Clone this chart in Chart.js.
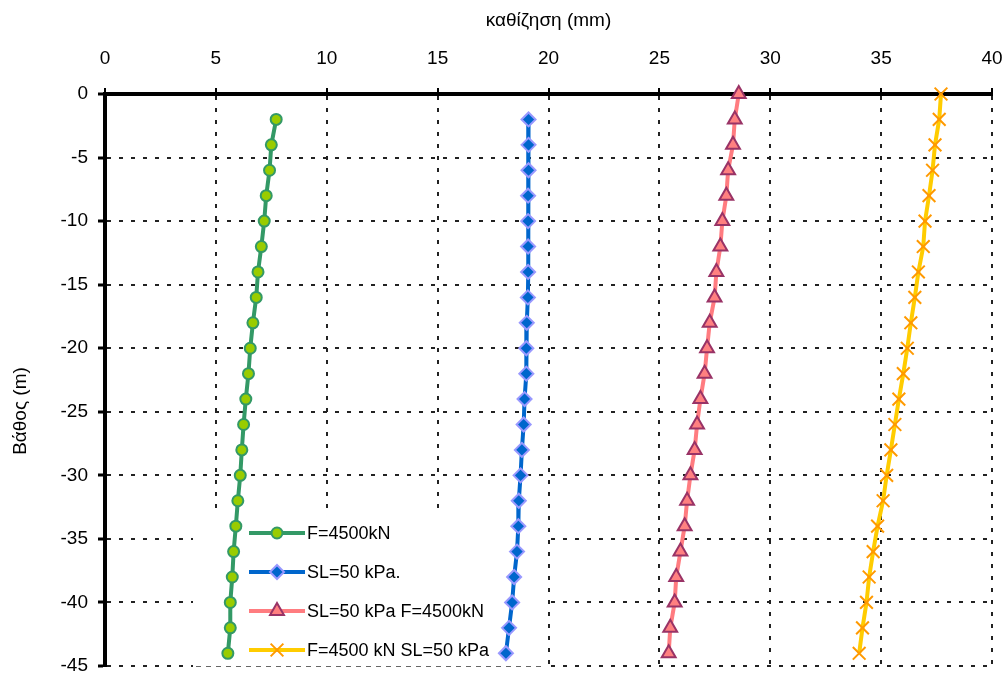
<!DOCTYPE html>
<html><head><meta charset="utf-8">
<script src="https://cdn.jsdelivr.net/npm/chart.js@4.4.0/dist/chart.umd.min.js"></script>
<style>html,body{margin:0;padding:0;background:#fff;} canvas{display:block;}</style>
</head><body>
<canvas id="c" width="1006" height="677"></canvas>
<script>
const xTitle = 'καθίζηση (mm)';
const yTitle = 'Βάθος (m)';
const seriesNames = ['F=4500kN', 'SL=50 kPa.', 'SL=50 kPa F=4500kN', 'F=4500 kN SL=50 kPa'];
const depthsFrom0 = [0, -2, -4, -6, -8, -10, -12, -14, -16, -18, -20, -22, -24, -26, -28, -30, -32, -34, -36, -38, -40, -42, -44];
const depthsFrom2 = [-2, -4, -6, -8, -10, -12, -14, -16, -18, -20, -22, -24, -26, -28, -30, -32, -34, -36, -38, -40, -42, -44];
const settleF = [7.72, 7.50, 7.42, 7.27, 7.18, 7.05, 6.90, 6.82, 6.67, 6.55, 6.47, 6.35, 6.25, 6.17, 6.10, 5.99, 5.90, 5.80, 5.74, 5.65, 5.65, 5.54];
const settleSL = [19.10, 19.10, 19.10, 19.08, 19.08, 19.08, 19.08, 19.07, 19.02, 19.00, 19.00, 18.92, 18.88, 18.80, 18.74, 18.66, 18.64, 18.58, 18.45, 18.36, 18.22, 18.08];
const settleSLF = [28.58, 28.40, 28.32, 28.10, 28.02, 27.84, 27.75, 27.57, 27.49, 27.27, 27.15, 27.04, 26.85, 26.70, 26.59, 26.40, 26.25, 26.14, 25.95, 25.76, 25.69, 25.49, 25.42];
const settleFSL = [37.70, 37.62, 37.43, 37.32, 37.16, 36.98, 36.90, 36.68, 36.52, 36.34, 36.18, 36.00, 35.80, 35.62, 35.44, 35.25, 35.09, 34.84, 34.64, 34.46, 34.34, 34.16, 34.01];
const xTicksMin = 0, xTicksMax = 40, xStep = 5;
const yTicksMin = -45, yTicksMax = 0, yStep = 5;

const FONT = '"Liberation Sans", Arial, sans-serif';
function pts(xs, ys) { return xs.map((v, i) => ({ x: v, y: ys[i] })); }

function drawMarker(ctx, style, r, x, y) {
  ctx.beginPath();
  if (style === 'circle') {
    ctx.arc(x, y, r, 0, Math.PI * 2); ctx.fill(); ctx.stroke();
  } else if (style === 'rectRot') {
    ctx.moveTo(x, y - r); ctx.lineTo(x + r, y); ctx.lineTo(x, y + r); ctx.lineTo(x - r, y); ctx.closePath(); ctx.fill(); ctx.stroke();
  } else if (style === 'triangle') {
    const w = r * Math.sqrt(3) / 2;
    ctx.moveTo(x, y - r); ctx.lineTo(x + w, y + r / 2); ctx.lineTo(x - w, y + r / 2); ctx.closePath(); ctx.fill(); ctx.stroke();
  } else if (style === 'crossRot') {
    const d = r * Math.SQRT1_2;
    ctx.moveTo(x - d, y - d); ctx.lineTo(x + d, y + d); ctx.moveTo(x + d, y - d); ctx.lineTo(x - d, y + d); ctx.stroke();
  }
}

const legendBox = {
  id: 'legendBox',
  beforeDatasetsDraw(chart) {
    const ctx = chart.ctx;
    ctx.save();
    ctx.fillStyle = '#fff';
    ctx.fillRect(193, 514, 353, 154);
    ctx.strokeStyle = '#666'; ctx.lineWidth = 1; ctx.setLineDash([5, 5]);
    ctx.beginPath(); ctx.moveTo(196, 666.5); ctx.lineTo(546, 666.5); ctx.stroke();
    ctx.setLineDash([]);
    chart.data.datasets.forEach((ds, i) => {
      const y = 533 + i * 39;
      ctx.strokeStyle = ds.borderColor; ctx.lineWidth = ds.borderWidth; ctx.lineCap = 'butt';
      ctx.beginPath(); ctx.moveTo(249, y); ctx.lineTo(305, y); ctx.stroke();
      ctx.fillStyle = ds.pointBackgroundColor; ctx.strokeStyle = ds.pointBorderColor; ctx.lineWidth = ds.pointBorderWidth;
      drawMarker(ctx, ds.pointStyle, ds.pointRadius, 277, y);
      ctx.fillStyle = '#000'; ctx.font = '18px ' + FONT; ctx.textBaseline = 'middle'; ctx.textAlign = 'left';
      ctx.fillText(ds.label, 307, y + 1);
    });
    ctx.restore();
  }
};

const yTitlePlugin = {
  id: 'yTitlePlugin',
  afterDraw(chart) {
    const ctx = chart.ctx;
    ctx.save();
    ctx.translate(21, 411);
    ctx.rotate(-Math.PI / 2);
    ctx.fillStyle = '#000'; ctx.font = '19px ' + FONT; ctx.textAlign = 'center'; ctx.textBaseline = 'middle';
    ctx.fillText(yTitle, 0, 0);
    ctx.restore();
  }
};

function zeroPad(s) { s.paddingLeft = 0; s.paddingRight = 0; s.paddingTop = 0; s.paddingBottom = 0; }

const common = { showLine: true, clip: false, borderWidth: 4, pointBorderWidth: 2, pointHoverRadius: 0 };

new Chart(document.getElementById('c'), {
  type: 'scatter',
  data: {
    datasets: [
      Object.assign({}, common, { label: seriesNames[0], data: pts(settleF, depthsFrom2), borderColor: '#339966', pointBackgroundColor: '#99cc00', pointBorderColor: '#339966', pointStyle: 'circle', pointRadius: 5.5 }),
      Object.assign({}, common, { label: seriesNames[1], data: pts(settleSL, depthsFrom2), borderColor: '#0066cc', pointBackgroundColor: '#0066cc', pointBorderColor: '#9999ff', pointStyle: 'rectRot', pointRadius: 7 }),
      Object.assign({}, common, { label: seriesNames[2], data: pts(settleSLF, depthsFrom0), borderColor: '#ff7c80', pointBackgroundColor: '#ff8080', pointBorderColor: '#993366', pointStyle: 'triangle', pointRadius: 8 }),
      Object.assign({}, common, { label: seriesNames[3], data: pts(settleFSL, depthsFrom0), borderColor: '#ffcc00', pointBackgroundColor: '#ff9900', pointBorderColor: '#ff9900', pointStyle: 'crossRot', pointRadius: 9 })
    ]
  },
  options: {
    responsive: false,
    animation: false,
    devicePixelRatio: 1,
    layout: { padding: { left: 0, top: 0, right: 14, bottom: 11 } },
    plugins: { legend: { display: false }, tooltip: { enabled: false } },
    elements: { line: { tension: 0 } },
    scales: {
      x: {
        type: 'linear', position: 'top', min: xTicksMin, max: xTicksMax,
        ticks: { stepSize: xStep, color: '#000', font: { family: FONT, size: 19 }, padding: 18, maxRotation: 0 },
        grid: { color: '#222', lineWidth: 2, tickLength: 6, tickColor: '#000', tickWidth: 2 },
        border: { display: true, color: '#000', width: 4, dash: [4, 8] },
        title: { display: true, text: xTitle, color: '#000', font: { family: FONT, size: 19 }, padding: { top: 9, bottom: 0 } },
        afterFit(s) { s.height = 94; zeroPad(s); }
      },
      y: {
        type: 'linear', min: yTicksMin, max: yTicksMax,
        ticks: { stepSize: yStep, color: '#000', font: { family: FONT, size: 19 }, padding: 10 },
        grid: { color: '#222', lineWidth: 2, tickLength: 7, tickColor: '#000', tickWidth: 3 },
        border: { display: true, color: '#000', width: 4, dash: [4, 8] },
        afterFit(s) { s.width = 105; zeroPad(s); }
      }
    }
  },
  plugins: [legendBox, yTitlePlugin]
});
</script>
</body></html>
